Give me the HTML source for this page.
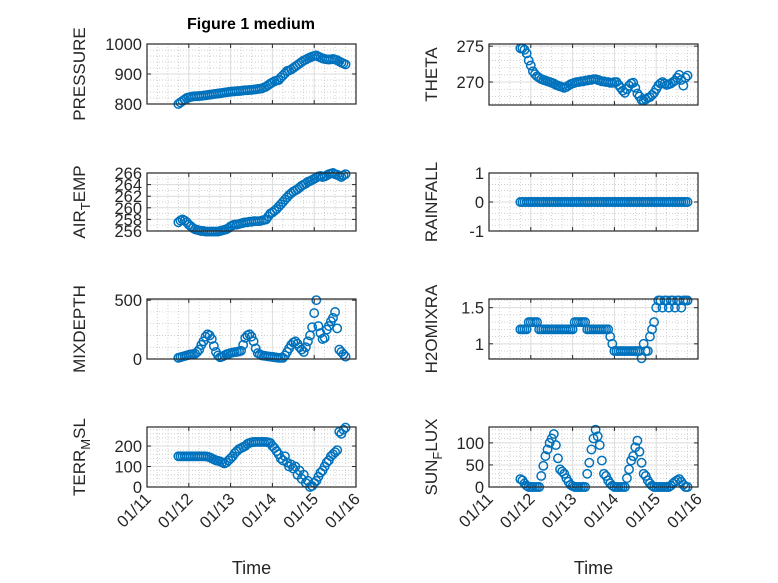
<!DOCTYPE html>
<html><head><meta charset="utf-8">
<style>
html,body{margin:0;padding:0;background:#fff;}
svg{display:block;font-family:"Liberation Sans","DejaVu Sans",sans-serif;}
</style></head>
<body>
<svg id="fig" width="778" height="583" viewBox="0 0 778 583" xmlns="http://www.w3.org/2000/svg">
<rect width="778" height="583" fill="#fff"/>
<text x="251" y="29" text-anchor="middle" font-size="16" font-weight="bold" fill="#000">Figure 1 medium</text>
</svg>
<script>
const times = [0.75,0.8,0.85,0.9,0.95,1.0,1.05,1.1,1.15,1.2,1.25,1.3,1.35,1.4,1.45,1.5,1.55,1.6,1.65,1.7,1.75,1.8,1.85,1.9,1.95,2.0,2.05,2.1,2.15,2.2,2.25,2.3,2.35,2.4,2.45,2.5,2.55,2.6,2.65,2.7,2.75,2.8,2.85,2.9,2.95,3.0,3.05,3.1,3.15,3.2,3.25,3.3,3.35,3.4,3.45,3.5,3.55,3.6,3.65,3.7,3.75,3.8,3.85,3.9,3.95,4.0,4.05,4.1,4.15,4.2,4.25,4.3,4.35,4.4,4.45,4.5,4.55,4.6,4.65,4.7,4.75];
const dayLabels = ["01/11","01/12","01/13","01/14","01/15","01/16"];
const pressure = [800,805,810,815,820,822,824,825,826,826,827,827,828,829,830,831,832,833,834,835,836,837,838,839,840,841,842,842,843,843,844,845,846,846,847,847,848,849,850,851,852,855,858,863,868,872,876,878,880,888,895,902,910,912,915,920,925,930,935,940,945,948,952,955,958,960,962,958,955,952,950,949,948,949,950,948,946,942,938,935,932];
const airTemp = [257.5,257.8,258,257.8,257.5,257.1,256.8,256.5,256.3,256.2,256.1,256,256,255.9,255.9,255.9,255.9,255.9,255.9,255.9,256,256.1,256.2,256.3,256.5,256.8,257,257.1,257.1,257.2,257.3,257.4,257.5,257.5,257.6,257.6,257.7,257.7,257.7,257.7,257.8,257.9,258,258.5,259,259.2,259.5,259.8,260.2,260.6,261,261.4,261.8,262.2,262.5,262.8,263,263.2,263.5,263.8,264,264.2,264.5,264.6,264.8,265,265.2,265.4,265.5,265.3,265.4,265.6,265.8,265.9,266,265.8,265.7,265.5,265.3,265.6,265.8];
const mixDepth = [10,15,20,25,30,35,40,42,45,60,80,120,150,190,210,200,170,110,60,30,15,20,30,40,45,50,55,58,60,65,70,120,180,200,210,190,150,90,50,40,30,28,25,22,20,18,15,12,10,10,10,30,60,90,120,140,150,130,100,80,60,100,150,200,270,390,500,280,220,170,180,250,280,320,350,400,260,80,60,40,20];
const terrMsl = [150,150,150,150,150,150,150,150,150,150,150,150,150,150,148,145,140,135,130,128,125,120,115,120,130,140,150,165,175,185,190,195,200,210,215,218,220,220,220,220,220,220,220,218,215,200,190,175,160,140,130,150,120,100,110,90,100,60,80,40,60,20,30,0,5,20,30,50,70,80,100,120,130,150,160,170,180,270,260,280,290];
const theta = [274.7,274.7,274.5,274,273,272.3,271.5,271.1,270.8,270.6,270.4,270.3,270.2,270.1,270,269.9,269.8,269.6,269.5,269.4,269.3,269.2,269.3,269.5,269.7,269.8,269.9,270,270,270.1,270.1,270.2,270.2,270.3,270.3,270.4,270.4,270.3,270.2,270.1,270.1,270,270,269.9,269.9,270,270,269.6,269.2,268.8,268.5,269,269.5,269.8,269.9,269.2,268.4,268,267.5,267.4,267.6,267.8,267.9,268.2,268.5,269,269.5,269.8,270,269.8,269.6,269.7,269.8,270,270.2,270.6,271,270.3,269.5,270.6,270.9];
const rainfall = [0,0,0,0,0,0,0,0,0,0,0,0,0,0,0,0,0,0,0,0,0,0,0,0,0,0,0,0,0,0,0,0,0,0,0,0,0,0,0,0,0,0,0,0,0,0,0,0,0,0,0,0,0,0,0,0,0,0,0,0,0,0,0,0,0,0,0,0,0,0,0,0,0,0,0,0,0,0,0,0,0];
const h2oMixRa = [1.2,1.2,1.2,1.2,1.3,1.3,1.3,1.3,1.3,1.2,1.2,1.2,1.2,1.2,1.2,1.2,1.2,1.2,1.2,1.2,1.2,1.2,1.2,1.2,1.2,1.2,1.3,1.3,1.3,1.3,1.3,1.3,1.2,1.2,1.2,1.2,1.2,1.2,1.2,1.2,1.2,1.2,1.2,1.1,1.0,0.9,0.9,0.9,0.9,0.9,0.9,0.9,0.9,0.9,0.9,0.9,0.9,0.9,0.8,1.0,0.9,0.9,1.1,1.2,1.3,1.5,1.6,1.6,1.5,1.6,1.6,1.5,1.6,1.6,1.5,1.6,1.6,1.5,1.6,1.6,1.6];
const sunFlux = [18,15,8,3,0,0,0,0,0,0,25,48,70,85,100,110,120,95,65,40,35,30,20,12,5,2,0,0,0,0,0,0,30,55,85,110,130,115,95,60,30,25,15,8,3,0,0,0,0,0,0,20,40,60,70,90,105,80,55,30,25,15,8,3,0,0,0,0,0,0,0,0,3,8,12,15,18,12,5,0,0];

const panels = [
 {name:"pressure",label:[["PRESSURE",0]],vals:pressure,y0:800,y1:1000,ticks:[800,900,1000],x:147,top:44,bot:104,minor:20},
 {name:"air-temp",label:[["AIR",0],["T",1],["EMP",0]],vals:airTemp,y0:256,y1:266,ticks:[256,258,260,262,264,266],x:147,top:173,bot:231,minor:1},
 {name:"mixdepth",label:[["MIXDEPTH",0]],vals:mixDepth,y0:0,y1:510,ticks:[0,500],x:147,top:299,bot:359,minor:100},
 {name:"terr-msl",label:[["TERR",0],["M",1],["SL",0]],vals:terrMsl,y0:0,y1:293,ticks:[0,100,200],x:147,top:427,bot:487,minor:20,xt:true},
 {name:"theta",label:[["THETA",0]],vals:theta,y0:266.8,y1:275.3,ticks:[270,275],x:489,top:44,bot:105,minor:1},
 {name:"rainfall",label:[["RAINFALL",0]],vals:rainfall,y0:-1,y1:1,ticks:[-1,0,1],x:489,top:173,bot:231,minor:0.2},
 {name:"h2omixra",label:[["H2OMIXRA",0]],vals:h2oMixRa,y0:0.79,y1:1.62,ticks:[1,1.5],x:489,top:299,bot:359,minor:0.1},
 {name:"sun-flux",label:[["SUN",0],["F",1],["LUX",0]],vals:sunFlux,y0:0,y1:136,ticks:[0,50,100],x:489,top:427,bot:487,minor:10,xt:true}
];
const W = 209;
const svg = document.getElementById('fig');
const NS = "http://www.w3.org/2000/svg";
function mk(tag, attrs, parent){
  const e = document.createElementNS(NS, tag);
  for (const k in attrs) e.setAttribute(k, attrs[k]);
  (parent||svg).appendChild(e);
  return e;
}
panels.forEach(p=>{
  const g = mk('g',{});
  
  
  const xs = t => p.x + t/5*W;
  const ys = v => p.bot - (v-p.y0)/(p.y1-p.y0)*(p.bot-p.top);
  mk('rect',{x:p.x,y:p.top,width:W,height:p.bot-p.top,fill:'#fff'},g);
  for (let t=0.25;t<5;t+=0.25){ if (Math.abs(t-Math.round(t))<1e-6) continue;
    mk('line',{x1:xs(t),x2:xs(t),y1:p.top,y2:p.bot,stroke:'#c0c0c0','stroke-width':0.7,'stroke-dasharray':'1,2'},g);}
  const start = Math.ceil(p.y0/p.minor)*p.minor;
  for (let v=start; v<p.y1; v+=p.minor){
    if (p.ticks.some(tk=>Math.abs(tk-v)<1e-6)) continue;
    mk('line',{x1:p.x,x2:p.x+W,y1:ys(v),y2:ys(v),stroke:'#c0c0c0','stroke-width':0.7,'stroke-dasharray':'1,2'},g);}
  for (let d=1; d<5; d++) mk('line',{x1:xs(d),x2:xs(d),y1:p.top,y2:p.bot,stroke:'#dcdcdc','stroke-width':1},g);
  p.ticks.forEach(v=>{
    mk('line',{x1:p.x,x2:p.x+W,y1:ys(v),y2:ys(v),stroke:'#dcdcdc','stroke-width':1},g);
    mk('line',{x1:p.x,x2:p.x+4,y1:ys(v),y2:ys(v),stroke:'#262626','stroke-width':1},g);
    mk('line',{x1:p.x+W-4,x2:p.x+W,y1:ys(v),y2:ys(v),stroke:'#262626','stroke-width':1},g);
    const tx = mk('text',{x:p.x-5,y:ys(v)+6,'text-anchor':'end','font-size':16.5,fill:'#262626'},g);
    
    
    tx.textContent = String(v);
  });
  for (let d=0; d<=5; d++){
    mk('line',{x1:xs(d),x2:xs(d),y1:p.bot,y2:p.bot-4,stroke:'#262626','stroke-width':1},g);
    mk('line',{x1:xs(d),x2:xs(d),y1:p.top,y2:p.top+4,stroke:'#262626','stroke-width':1},g);
  }
  p.vals.forEach((v,i)=>{
    const c = mk('circle',{cx:xs(times[i]),cy:ys(v),r:4.2,fill:'none',stroke:'#0072BD','stroke-width':1.5},g);
    
    
  });
  mk('rect',{x:p.x,y:p.top,width:W,height:p.bot-p.top,fill:'none',stroke:'#262626','stroke-width':1.2},g);
  const cy = (p.top+p.bot)/2;
  const off = p.x < 300 ? 62 : 52;
  const lab = mk('text',{transform:`translate(${p.x-off},${cy}) rotate(-90)`,'text-anchor':'middle','font-size':17,fill:'#262626'},g);
  
  
  p.label.forEach(([s,sub])=>{
    const ts = mk('tspan',{},lab);
    if (sub){ ts.setAttribute('font-size','13'); ts.setAttribute('dy','5'); }
    else if (lab.childNodes.length>1){ ts.setAttribute('dy','-5'); }
    ts.textContent = s;
  });
  if (p.xt){
    dayLabels.forEach((s,d)=>{
      const t = mk('text',{transform:`translate(${xs(d)+5},${p.bot+13}) rotate(-45)`,'text-anchor':'end','font-size':16.5,fill:'#262626'},g);
      
      
      t.textContent = s;
    });
    const xt = mk('text',{x:p.x+W/2,y:574,'text-anchor':'middle','font-size':18,fill:'#262626'},g);
    
    
    xt.textContent = 'Time';
  }
});
</script>
</body></html>
